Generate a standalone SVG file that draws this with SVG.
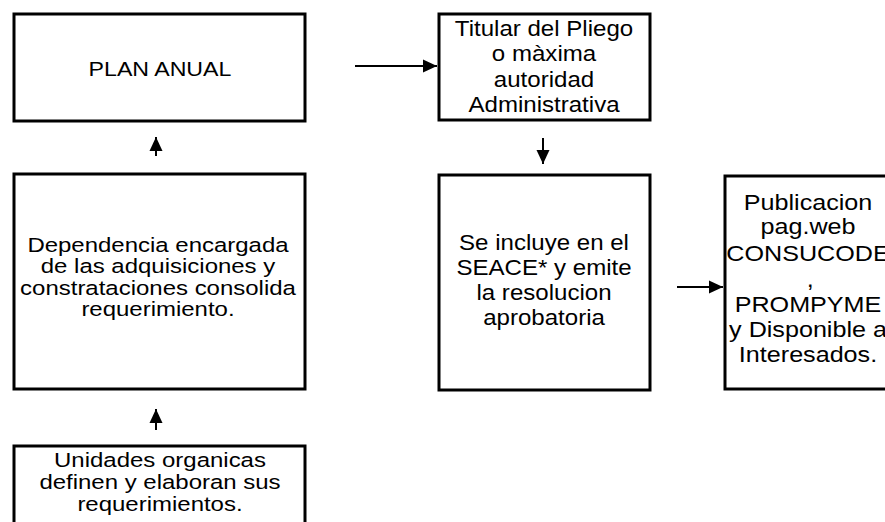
<svg xmlns="http://www.w3.org/2000/svg" width="885" height="522" viewBox="0 0 885 522">
<defs>
<style>
.box{fill:#fff;stroke:#000;stroke-width:3}
.t{font-family:"Liberation Sans",Arial,sans-serif;font-size:20.5px;fill:#000;text-anchor:middle}
.t2{font-family:"Liberation Sans",Arial,sans-serif;font-size:21.5px;fill:#000;text-anchor:middle}
.c{stroke:#000;stroke-width:2;fill:none;marker-end:url(#ah)}
</style>
<marker id="ah" markerUnits="userSpaceOnUse" markerWidth="14" markerHeight="14" viewBox="0 0 14 14" refX="14" refY="7" orient="auto">
<path d="M0,0.5 L14,7 L0,13.5 Z" fill="#000"/>
</marker>
</defs>
<rect width="885" height="522" fill="#fff"/>
<g id="plan">
<rect class="box" x="14" y="14" width="291" height="107"/>
<g transform="translate(160 0) scale(1.13 1)"><text class="t" x="0" y="76">PLAN ANUAL</text></g>
</g>
<g id="dependencia">
<rect class="box" x="14" y="174" width="291" height="215"/>
<g transform="translate(158 0) scale(1.17 1)">
<text class="t" x="0" y="252">Dependencia encargada</text>
<text class="t" x="0" y="273.5">de las adquisiciones y</text>
<text class="t" x="0" y="295">constrataciones consolida</text>
<text class="t" x="0" y="316.5">requerimiento.</text>
</g>
</g>
<g id="unidades">
<rect class="box" x="14" y="446" width="291" height="90"/>
<g transform="translate(160 0) scale(1.17 1)">
<text class="t" x="0" y="467.5">Unidades organicas</text>
<text class="t" x="0" y="489.5">definen y elaboran sus</text>
<text class="t" x="0" y="511.5">requerimientos.</text>
</g>
</g>
<g id="titular">
<rect class="box" x="439" y="14" width="211" height="106"/>
<g transform="translate(544 0) scale(1.12 1)">
<text class="t2" x="0" y="36">Titular del Pliego</text>
<text class="t2" x="0" y="61.5">o màxima</text>
<text class="t2" x="0" y="87">autoridad</text>
<text class="t2" x="0" y="112.5">Administrativa</text>
</g>
</g>
<g id="seace">
<rect class="box" x="439" y="175" width="211" height="215"/>
<g transform="translate(544 0) scale(1.12 1)">
<text class="t2" x="0" y="250">Se incluye en el</text>
<text class="t2" x="0" y="275">SEACE* y emite</text>
<text class="t2" x="0" y="300">la resolucion</text>
<text class="t2" x="0" y="325">aprobatoria</text>
</g>
</g>
<g id="publicacion">
<rect class="box" x="725" y="176" width="180" height="213"/>
<g transform="translate(808 0) scale(1.17 1)">
<text class="t2" x="0" y="210">Publicacion</text>
<text class="t2" x="0" y="234">pag.web</text>
<text class="t2" x="0" y="261">CONSUCODE</text>
<text class="t2" x="2" y="287">,</text>
<text class="t2" x="0" y="312">PROMPYME</text>
<text class="t2" x="0" y="337">y Disponible a</text>
<text class="t2" x="0" y="362">Interesados.</text>
</g>
</g>
<g id="connectors">
<line class="c" x1="355" y1="66" x2="437" y2="66"/>
<line class="c" x1="156" y1="156" x2="156" y2="137"/>
<line class="c" x1="156" y1="430" x2="156" y2="409"/>
<line class="c" x1="543" y1="138" x2="543" y2="164"/>
<line class="c" x1="677" y1="287" x2="723" y2="287"/>
</g>
</svg>
